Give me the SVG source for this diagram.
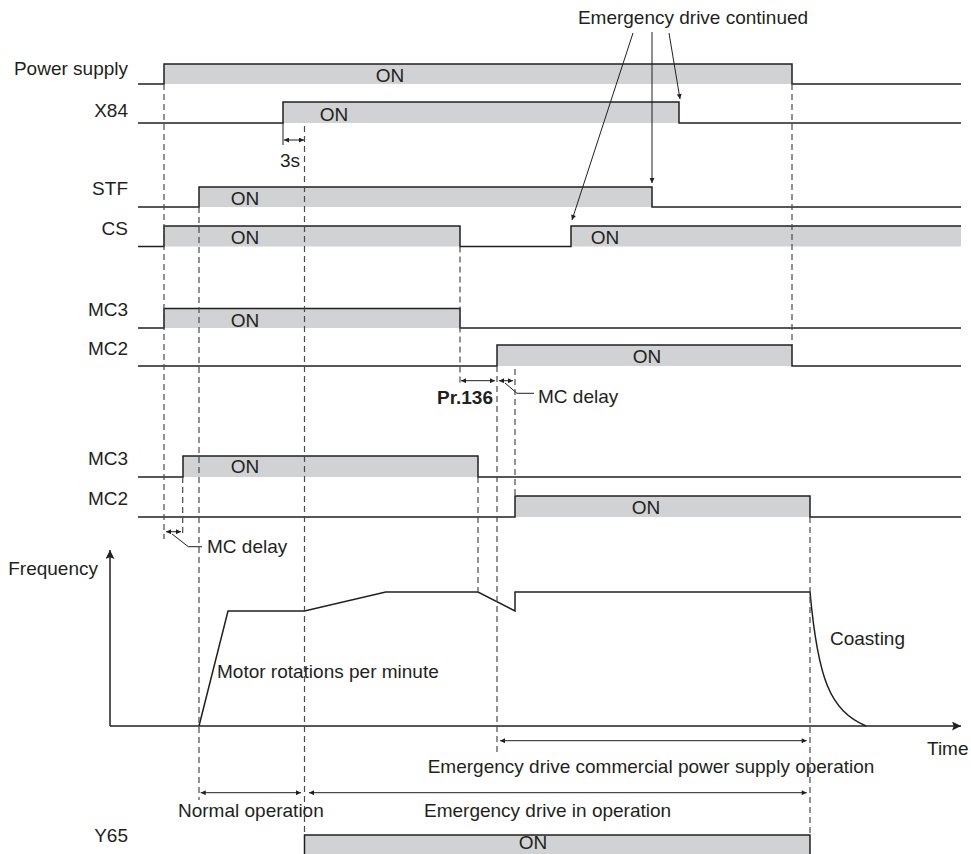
<svg xmlns="http://www.w3.org/2000/svg" width="971" height="854" viewBox="0 0 971 854">
<defs>
<style>
text{font-family:"Liberation Sans",Arial,sans-serif;font-size:19px;fill:#231f20}
.lbl{text-anchor:end}
.on{text-anchor:middle}
.b{font-weight:bold}
.fill{fill:#d1d2d4;stroke:none}
.wave{fill:none;stroke:#231f20;stroke-width:1.5}
.dash{fill:none;stroke:#4a4a4a;stroke-width:1.2;stroke-dasharray:6 4}
.thin{fill:none;stroke:#231f20;stroke-width:1}
.dim{fill:none;stroke:#231f20;stroke-width:1;marker-start:url(#ah);marker-end:url(#ah)}
.ptr{fill:none;stroke:#231f20;stroke-width:1;marker-end:url(#ah)}
.axis{fill:none;stroke:#231f20;stroke-width:1.5;marker-end:url(#big)}
</style>
<marker id="ah" viewBox="0 0 10 10" refX="10" refY="5" markerWidth="7" markerHeight="5" markerUnits="userSpaceOnUse" orient="auto-start-reverse">
<path d="M0,0 L10,5 L0,10 z" fill="#231f20"/>
</marker>
<marker id="big" viewBox="0 0 10 10" refX="10" refY="5" markerWidth="12" markerHeight="9" markerUnits="userSpaceOnUse" orient="auto">
<path d="M0,0 L10,5 L0,10 L2,5 z" fill="#231f20"/>
</marker>
</defs>
<rect width="971" height="854" fill="#fff"/>

<g id="power-supply">
<rect class="fill" x="164" y="64" width="628" height="20"/>
<path class="wave" d="M138,84 H164 V64 H792 V84 H961"/>
<text class="lbl" x="128" y="75">Power supply</text>
<text class="on" x="390" y="82">ON</text>
</g>

<g id="x84">
<rect class="fill" x="283" y="102" width="396" height="21"/>
<path class="wave" d="M138,123 H283 V102 H679 V123 H961"/>
<text class="lbl" x="128" y="117">X84</text>
<text class="on" x="334" y="121">ON</text>
</g>

<g id="stf">
<rect class="fill" x="199" y="187" width="453" height="20"/>
<path class="wave" d="M138,207 H199 V187 H652 V207 H961"/>
<text class="lbl" x="128" y="195">STF</text>
<text class="on" x="245" y="205">ON</text>
</g>

<g id="cs">
<rect class="fill" x="164" y="226" width="296" height="20.5"/>
<rect class="fill" x="571" y="226" width="390" height="20.5"/>
<path class="wave" d="M138,246.5 H164 V226 H460 V246.5 H571 V226 H961"/>
<text class="lbl" x="128" y="235">CS</text>
<text class="on" x="245" y="244">ON</text>
<text class="on" x="605" y="244">ON</text>
</g>

<g id="mc3-a">
<rect class="fill" x="164" y="308.5" width="296" height="19.5"/>
<path class="wave" d="M138,328 H164 V308.5 H460 V328 H961"/>
<text class="lbl" x="128" y="316">MC3</text>
<text class="on" x="245" y="327">ON</text>
</g>

<g id="mc2-a">
<rect class="fill" x="497" y="345" width="295" height="21"/>
<path class="wave" d="M138,366 H497 V345 H792 V366 H961"/>
<text class="lbl" x="128" y="355">MC2</text>
<text class="on" x="647" y="363">ON</text>
</g>

<g id="mc3-b">
<rect class="fill" x="183" y="456" width="295" height="21"/>
<path class="wave" d="M138,477 H183 V456 H478 V477 H961"/>
<text class="lbl" x="128" y="465">MC3</text>
<text class="on" x="245" y="473">ON</text>
</g>

<g id="mc2-b">
<rect class="fill" x="515" y="496" width="295" height="21"/>
<path class="wave" d="M138,517 H515 V496 H810 V517 H961"/>
<text class="lbl" x="128" y="505">MC2</text>
<text class="on" x="646" y="514">ON</text>
</g>

<g id="frequency">
<path class="axis" d="M110,726 V550"/>
<path class="axis" d="M110,726 H961"/>
<path class="wave" d="M199,726 L228,611 H304.5 L385.7,592 H478 L515,611 V592 H810 C818,680 830,710 866,726"/>
<text class="lbl" x="98" y="575">Frequency</text>
<text x="927" y="755">Time</text>
<text x="217" y="678">Motor rotations per minute</text>
<text x="830" y="645">Coasting</text>
</g>

<g id="y65">
<rect class="fill" x="304.5" y="835" width="505.5" height="22"/>
<path class="wave" d="M304.5,857 V835 H810 V857"/>
<text class="lbl" x="128" y="842">Y65</text>
<text class="on" x="533" y="849">ON</text>
</g>

<g id="connectors">
<path class="dash" d="M164,84 V539"/>
<path class="dash" d="M182.7,477 V535"/>
<path class="dash" d="M199,207 V800"/>
<path class="dash" d="M304.5,126 V835"/>
<path class="dash" d="M460,246.5 V384"/>
<path class="dash" d="M478,477 V592"/>
<path class="dash" d="M497,366 V755"/>
<path class="dash" d="M515,369 V496"/>
<path class="dash" d="M792,84 V345"/>
<path class="dash" d="M810,517 V835"/>

<path class="thin" d="M283,123 V145"/>
<path class="dim" d="M284,140 H304"/>
<path class="dim" d="M461,380.7 H495"/>
<path class="dim" d="M499,380.7 H513"/>
<path class="dim" d="M166,531.7 H181"/>
<path class="dim" d="M500,740.7 H806.7"/>
<path class="dim" d="M200.7,792.7 H301"/>
<path class="dim" d="M309,792.7 H806.7"/>

<path class="thin" d="M505,383 L517,393.3 H534"/>
<path class="thin" d="M172,534 L188.3,546.7 H202"/>

<path class="ptr" d="M633,33 L572,220"/>
<path class="ptr" d="M652,32 V183"/>
<path class="ptr" d="M669,33 L680,99"/>
</g>

<g id="annotations">
<text class="on" x="693" y="24">Emergency drive continued</text>
<text class="on" x="290" y="167">3s</text>
<text class="lbl b" x="493" y="404">Pr.136</text>
<text x="538" y="403">MC delay</text>
<text x="207" y="553">MC delay</text>
<text x="427.7" y="773">Emergency drive commercial power supply operation</text>
<text x="178" y="817">Normal operation</text>
<text x="424" y="817">Emergency drive in operation</text>
</g>
</svg>
